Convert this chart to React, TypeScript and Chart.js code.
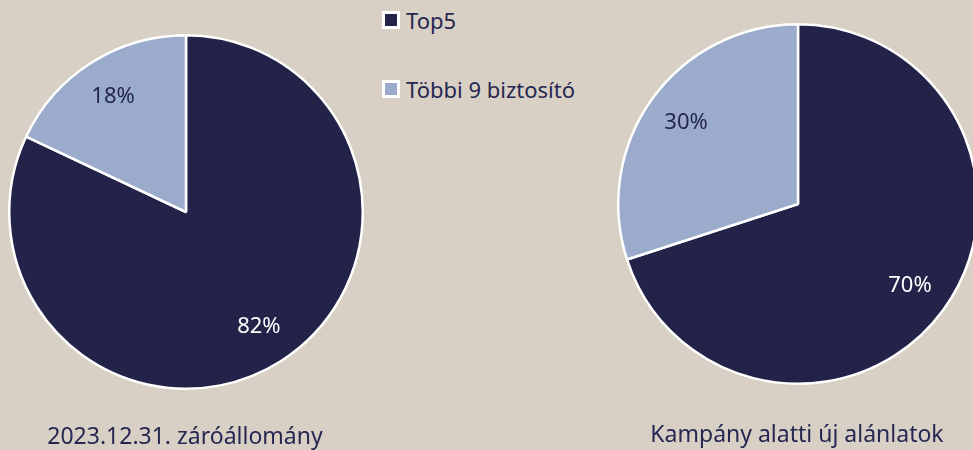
import React, { useEffect, useRef } from "react";
import { Chart, registerables } from "chart.js";

Chart.register(...registerables);

const categories = ["Top5", "Többi 9 biztosító"];
const leftValues = [82, 18];
const rightValues = [70, 30];
const leftTitle = "2023.12.31. záróállomány";
const rightTitle = "Kampány alatti új alánlatok";

const DARK = "#232249";
const LIGHT = "#9aabcc";
const BG = "#d8d0c4";
const TEXT = "#262752";
const FONT = "'Noto Sans', sans-serif";
const labelColors = ["#ffffff", TEXT];

const pctLabels = {
  id: "pctLabels",
  afterDatasetsDraw(chart: any) {
    const ctx = chart.ctx;
    const meta = chart.getDatasetMeta(0);
    const data = chart.data.datasets[0].data as number[];
    ctx.save();
    ctx.font = `22px ${FONT}`;
    ctx.textAlign = "center";
    ctx.textBaseline = "middle";
    meta.data.forEach((arc: any, i: number) => {
      const { x, y, startAngle, endAngle, outerRadius } = arc.getProps(
        ["x", "y", "startAngle", "endAngle", "outerRadius"],
        true
      );
      const mid = (startAngle + endAngle) / 2;
      const r = outerRadius * 0.77;
      ctx.fillStyle = labelColors[i];
      ctx.fillText(`${data[i]}%`, x + Math.cos(mid) * r, y + Math.sin(mid) * r);
    });
    ctx.restore();
  },
};

function Pie({
  values,
  width,
  height,
  padding,
}: {
  values: number[];
  width: number;
  height: number;
  padding: { left: number; right: number; top: number; bottom: number };
}) {
  const ref = useRef<HTMLCanvasElement>(null);
  useEffect(() => {
    if (!ref.current) return;
    const chart = new Chart(ref.current, {
      type: "pie",
      data: {
        labels: categories,
        datasets: [
          {
            data: values,
            backgroundColor: [DARK, LIGHT],
            borderColor: "#ffffff",
            borderWidth: 2.5,
            hoverOffset: 0,
          },
        ],
      },
      options: {
        responsive: false,
        animation: false,
        layout: { padding },
        plugins: {
          legend: { display: false },
          tooltip: { enabled: false },
        },
      },
      plugins: [pctLabels],
    });
    return () => chart.destroy();
  }, []);
  return <canvas ref={ref} width={width} height={height} style={{ width, height, display: "block" }} />;
}

function LegendItem({ color, label, top }: { color: string; label: string; top: number }) {
  return (
    <div style={{ position: "absolute", left: 382, top, display: "flex", alignItems: "center", height: 26 }}>
      <div
        style={{
          width: 12,
          height: 12,
          background: color,
          border: "3px solid #ffffff",
          marginRight: 6,
        }}
      />
      <span style={{ fontFamily: FONT, fontSize: 22, color: TEXT, lineHeight: "26px", whiteSpace: "nowrap" }}>
        {label}
      </span>
    </div>
  );
}

export default function App() {
  return (
    <div
      style={{
        position: "fixed",
        left: 0,
        top: 0,
        width: 973,
        height: 450,
        background: BG,
        overflow: "hidden",
      }}
    >
      <div style={{ position: "absolute", left: 0, top: 0 }}>
        <Pie values={leftValues} width={372} height={450} padding={{ left: 8, right: 8, top: 34, bottom: 60 }} />
      </div>
      <div style={{ position: "absolute", left: 600, top: 0 }}>
        <Pie values={rightValues} width={400} height={450} padding={{ left: 17, right: 21, top: 23, bottom: 65 }} />
      </div>
      <LegendItem color={DARK} label={categories[0]} top={7} />
      <LegendItem color={LIGHT} label={categories[1]} top={76} />
      <div
        style={{
          position: "absolute",
          left: 185 - 200,
          width: 400,
          top: 419,
          textAlign: "center",
          fontFamily: FONT,
          fontSize: 23,
          lineHeight: "32px",
          color: TEXT,
          whiteSpace: "nowrap",
        }}
      >
        {leftTitle}
      </div>
      <div
        style={{
          position: "absolute",
          left: 797 - 200,
          width: 400,
          top: 417,
          textAlign: "center",
          fontFamily: FONT,
          fontSize: 23,
          lineHeight: "32px",
          color: TEXT,
          whiteSpace: "nowrap",
        }}
      >
        {rightTitle}
      </div>
    </div>
  );
}
